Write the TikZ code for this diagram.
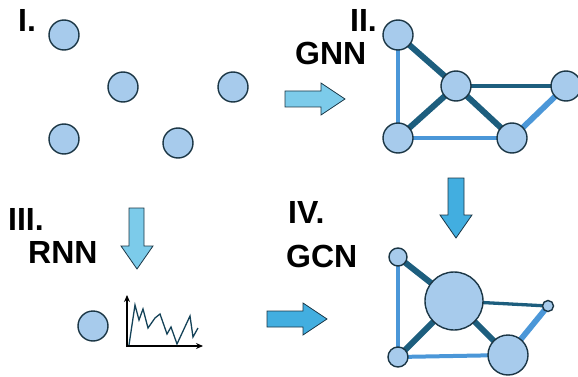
\documentclass[tikz,border=0pt]{standalone}
\usepackage{fontspec}
\setmainfont{Liberation Sans}
\usetikzlibrary{arrows.meta}
\begin{document}
\begin{tikzpicture}[x=1pt,y=-1pt,
  vert/.style={circle,draw=nodeline,fill=nodefill,line width=1.4pt,inner sep=0pt,minimum size=#1},
  vert/.default=30pt,
  strong/.style={draw=edgedark,line width=6pt},
  thin/.style={draw=edgedark,line width=3.3pt},
  soft/.style={draw=edgelight,line width=4.8pt},
  softthin/.style={draw=edgelight,line width=4pt},
  softthick/.style={draw=edgelight,line width=5.8pt},
  label/.style={font=\bfseries\fontsize{32}{36}\selectfont,anchor=base west,inner sep=0pt},
  blockarrow/.style={draw=nodeline,line width=0.8pt,fill=#1},
]
\definecolor{nodefill}{HTML}{A7CBEC}
\definecolor{nodeline}{HTML}{1B3645}
\definecolor{edgedark}{HTML}{1D5E7E}
\definecolor{edgelight}{HTML}{4B97D8}
\definecolor{arrowlight}{HTML}{7CCBEA}
\definecolor{arrowdark}{HTML}{42AEE0}
\useasboundingbox (0,0) rectangle (578,377);

% ---- I. unconnected points
\node[label] (l1) at (18,32) {I.};
\node[vert] (p1) at (64,35) {};
\node[vert] (p2) at (123,87) {};
\node[vert] (p3) at (233,87) {};
\node[vert] (p4) at (64,139) {};
\node[vert] (p5) at (178,143) {};

% ---- arrow I -> II
\path[blockarrow=arrowlight] (285,91) -- (321,91) -- (321,83) -- (345,99) -- (321,115) -- (321,107) -- (285,107) -- cycle;

% ---- II. GNN graph
\node[label] (l2) at (350,32) {II.};
\node[label] (l2b) at (295,65) {GNN};
\coordinate (a1) at (398,35);
\coordinate (a2) at (456,86);
\coordinate (a3) at (566,86);
\coordinate (a4) at (398,138);
\coordinate (a5) at (512,138);
\draw[strong] (a1) -- (a2);
\draw[soft] (a1) -- (a4);
\draw[thin] (a2) -- (a3);
\draw[strong] (a2) -- (a4);
\draw[strong] (a2) -- (a5);
\draw[softthin] (a4) -- (a5);
\draw[softthick] (a5) -- (a3);
\foreach \n in {a1,a2,a3,a4,a5} \node[vert] (n\n) at (\n) {};

% ---- arrow II -> IV
\path[blockarrow=arrowdark] (448,178) -- (464,178) -- (464,215) -- (472,215) -- (456,238) -- (440,215) -- (448,215) -- cycle;

% ---- III. RNN
\node[label] (l3) at (8,230) {III.};
\node[label] (l3b) at (28,263) {RNN};
\path[blockarrow=arrowlight] (129,208) -- (144,208) -- (144,246) -- (153,246) -- (137,269) -- (121,246) -- (129,246) -- cycle;
\node[vert] (q) at (93,326) {};
\draw[line width=1.6pt,-{Stealth[length=7pt,width=6pt]}] (127,347) -- (127,295);
\draw[line width=1.6pt,-{Stealth[length=7pt,width=6pt]}] (126.2,346) -- (203,346);
\draw[edgedark!70!black,line width=1.3pt,line join=miter]
  (129,345) -- (135,305) -- (139,320) -- (143,309) -- (148,328) -- (155,318) -- (160,314)
  -- (167,334) -- (171,327) -- (177,344) -- (190,316) -- (193,337) -- (198,328);

% ---- arrow III -> IV
\path[blockarrow=arrowdark] (267,311) -- (303,311) -- (303,303) -- (327,319) -- (303,335) -- (303,327) -- (267,327) -- cycle;

% ---- IV. GCN graph
\node[label] (l4) at (288,223) {IV.};
\node[label] (l4b) at (286,267) {GCN};
\coordinate (b1) at (398,257);
\coordinate (b2) at (454,301);
\coordinate (b3) at (548,306);
\coordinate (b4) at (398,357);
\coordinate (b5) at (508,355);
\draw[strong] (b1) -- (b2);
\draw[soft] (b1) -- (b4);
\draw[thin] (b2) -- (b3);
\draw[strong] (b2) -- (b4);
\draw[strong] (b2) -- (b5);
\draw[softthin] (b4) -- (b5);
\draw[softthick] (b5) -- (b3);
\node[vert=18pt] (nb1) at (b1) {};
\node[vert=58pt] (nb2) at (b2) {};
\node[vert=11pt] (nb3) at (b3) {};
\node[vert=20pt] (nb4) at (b4) {};
\node[vert=40pt] (nb5) at (b5) {};
\end{tikzpicture}
\end{document}
